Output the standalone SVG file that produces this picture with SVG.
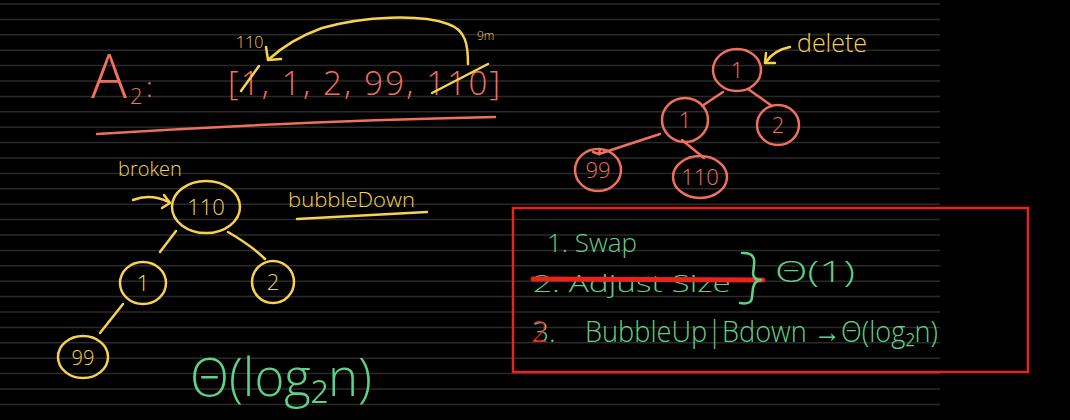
<svg xmlns="http://www.w3.org/2000/svg" width="1070" height="420" viewBox="0 0 1070 420">
<defs>
<style>
.t{font-family:"Open Sans","Liberation Sans",sans-serif;font-weight:300}
.sal{fill:#f0705e}
.yel{fill:#f6d24e}
.grn{fill:#5fd08a}
.red{fill:#e8231c}
.ss{stroke:#f0705e;stroke-width:2.5;fill:none;stroke-linecap:round}
.sy{stroke:#f6d24e;stroke-width:2.5;fill:none;stroke-linecap:round;stroke-linejoin:round}
.sg{stroke:#5fd08a;stroke-width:2.5;fill:none;stroke-linecap:round;stroke-linejoin:round}
.rule{stroke:#2a2a2a;stroke-width:1.5}
.c{text-anchor:middle}
</style>
</defs>
<rect width="1070" height="420" fill="#000"/>
<g id="rules" class="rule">
<line x1="0" y1="4" x2="940" y2="4"/><line x1="0" y1="19.4" x2="940" y2="19.4"/><line x1="0" y1="34.8" x2="940" y2="34.8"/><line x1="0" y1="50.2" x2="940" y2="50.2"/><line x1="0" y1="65.6" x2="940" y2="65.6"/><line x1="0" y1="81" x2="940" y2="81"/><line x1="0" y1="96.4" x2="940" y2="96.4"/><line x1="0" y1="111.8" x2="940" y2="111.8"/><line x1="0" y1="127.2" x2="940" y2="127.2"/><line x1="0" y1="142.6" x2="940" y2="142.6"/><line x1="0" y1="158" x2="940" y2="158"/><line x1="0" y1="173.4" x2="940" y2="173.4"/><line x1="0" y1="188.8" x2="940" y2="188.8"/><line x1="0" y1="204.2" x2="940" y2="204.2"/><line x1="0" y1="219.6" x2="940" y2="219.6"/><line x1="0" y1="235" x2="940" y2="235"/><line x1="0" y1="250.4" x2="940" y2="250.4"/><line x1="0" y1="265.8" x2="940" y2="265.8"/><line x1="0" y1="281.2" x2="940" y2="281.2"/><line x1="0" y1="296.6" x2="940" y2="296.6"/><line x1="0" y1="312" x2="940" y2="312"/><line x1="0" y1="327.4" x2="940" y2="327.4"/><line x1="0" y1="342.8" x2="940" y2="342.8"/><line x1="0" y1="358.2" x2="940" y2="358.2"/><line x1="0" y1="373.6" x2="940" y2="373.6"/><line x1="0" y1="389" x2="940" y2="389"/><line x1="0" y1="404.4" x2="940" y2="404.4"/>
</g>

<g id="array">
<text class="t sal" x="91" y="98" font-size="60">A</text>
<text class="t sal" x="130" y="104" font-size="22">2</text>
<text class="t sal" x="146" y="97" font-size="28">:</text>
<text class="t sal" x="228" y="95" font-size="33" textLength="272">[1, 1, 2, 99, 110]</text>
<line class="sy" x1="241" y1="91" x2="259" y2="66"/>
<line class="sy" x1="432" y1="93" x2="488" y2="64"/>
<path class="sy" d="M468,64 C468,45 466,30 448,24 C420,14 365,16 322,28 C300,36 282,47 268,60"/>
<polyline class="sy" points="266,47 268,60 281,59"/>
<text class="t yel" x="236" y="48" font-size="16">110</text>
<text class="t yel" x="477" y="40" font-size="12">9m</text>
<path class="ss" d="M97,134 Q300,121 495,117"/>
</g>

<g id="connectors">
<line class="ss" x1="723" y1="92" x2="702" y2="106"/>
<line class="ss" x1="748" y1="89" x2="772" y2="106"/>
<path class="ss" d="M660,134 L599,154 M593,152 L599,154 L600,149"/>
<line class="ss" x1="682" y1="140" x2="704" y2="158"/>
<line class="sy" x1="176" y1="231" x2="160" y2="252"/>
<path class="sy" d="M228,232 Q252,246 265,259"/>
<line class="sy" x1="123" y1="304" x2="100" y2="333"/>
</g>

<g id="r-root"><ellipse class="ss" cx="737" cy="70" rx="24" ry="21"/><text class="t sal c" x="737" y="78" font-size="22">1</text></g>
<g id="r-left"><ellipse class="ss" cx="685" cy="120" rx="23" ry="22"/><text class="t sal c" x="685" y="128" font-size="22">1</text></g>
<g id="r-right"><ellipse class="ss" cx="778" cy="125" rx="21" ry="20"/><text class="t sal c" x="778" y="133" font-size="22">2</text></g>
<g id="r-99"><ellipse class="ss" cx="598" cy="170" rx="23" ry="21"/><text class="t sal c" x="598" y="178" font-size="22">99</text></g>
<g id="r-110"><ellipse class="ss" cx="700" cy="177" rx="27" ry="21"/><text class="t sal c" x="700" y="185" font-size="22">110</text></g>

<g id="delete-label">
<text class="t yel" x="797" y="52" font-size="25">delete</text>
<path class="sy" d="M790,47 Q774,50 766,62"/>
<polyline class="sy" points="766,53 765,63 775,63"/>
</g>

<g id="y-root"><ellipse class="sy" cx="206" cy="207" rx="34" ry="26"/><text class="t yel c" x="206" y="215" font-size="22">110</text></g>
<g id="y-left"><ellipse class="sy" cx="143" cy="283" rx="23" ry="21"/><text class="t yel c" x="143" y="291" font-size="22">1</text></g>
<g id="y-right"><ellipse class="sy" cx="273" cy="282" rx="21" ry="21"/><text class="t yel c" x="273" y="290" font-size="22">2</text></g>
<g id="y-99"><ellipse class="sy" cx="83" cy="357" rx="25" ry="21"/><text class="t yel c" x="83" y="365" font-size="20">99</text></g>

<g id="broken-label">
<text class="t yel" x="118" y="176" font-size="20">broken</text>
<path class="sy" d="M133,200 Q150,193 169,202"/>
<polyline class="sy" points="164,195 170,203 162,208"/>
</g>

<g id="bubbledown-label">
<text class="t yel" x="288" y="207" font-size="21" textLength="127" lengthAdjust="spacingAndGlyphs">bubbleDown</text>
<path class="sy" d="M297,219 L427,212"/>
</g>

<g id="theta-left">
<text class="t grn" x="190" y="396" font-size="54" textLength="182" lengthAdjust="spacingAndGlyphs">Θ(log₂n)</text>
</g>

<g id="steps">
<rect x="513" y="208" width="515" height="164" fill="none" stroke="#e8231c" stroke-width="2.5"/>
<text class="t grn" x="547" y="252" font-size="26">1. Swap</text>
<text class="t grn" x="533" y="292" font-size="23" textLength="198" lengthAdjust="spacingAndGlyphs">2. Adjust Size</text>
<line x1="533" y1="279" x2="763" y2="280" stroke="#e8231c" stroke-width="5" stroke-linecap="round"/>
<path class="sg" d="M742,253 Q756,252 754,265 L753,274 Q754,280 761,280 Q754,281 753,288 L752,297 Q752,305 740,303"/>
<text class="t grn" x="775" y="282" font-size="30" textLength="80" lengthAdjust="spacingAndGlyphs">Θ(1)</text>
<text class="t grn" x="533" y="342" font-size="28">3.</text>
<text class="t red" x="531" y="342" font-size="30" font-weight="400">2</text>
<text class="t grn" x="585" y="342" font-size="30" textLength="353" lengthAdjust="spacingAndGlyphs">BubbleUp|Bdown →Θ(log₂n)</text>
</g>
</svg>
